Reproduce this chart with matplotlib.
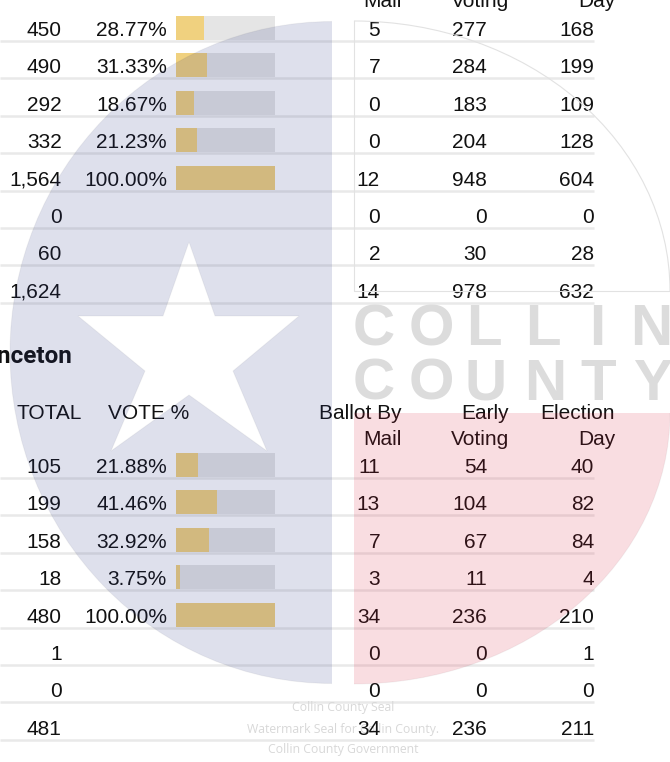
#!/usr/bin/env python3
"""precinct results table with the county seal watermark over it"""
import matplotlib
matplotlib.use('Agg')
import matplotlib.pyplot as plt
from matplotlib.patches import Ellipse, Arc, PathPatch, Rectangle
from matplotlib.path import Path
from matplotlib.transforms import Affine2D

# top table
top_total = ['450', '490', '292', '332', '1,564', '0', '60', '1,624']
top_pct = [28.77, 31.33, 18.67, 21.23, 100.00]
top_mail = [5, 7, 0, 0, 12, 0, 2, 14]
top_early = [277, 284, 183, 204, 948, 0, 30, 978]
top_day = [168, 199, 109, 128, 604, 0, 28, 632]

# bottom table
bot_total = ['105', '199', '158', '18', '480', '1', '0', '481']
bot_pct = [21.88, 41.46, 32.92, 3.75, 100.00]
bot_mail = [11, 13, 7, 3, 34, 0, 0, 34]
bot_early = [54, 104, 67, 11, 236, 0, 0, 236]
bot_day = [40, 82, 84, 4, 210, 1, 0, 211]

title = 'Princeton'
caption = ['Collin County Seal', 'Watermark Seal for Collin County.', 'Collin County Government']

plt.rcParams['font.family'] = ['Liberation Sans', 'DejaVu Sans']
ROW = 37.4
TXT = '#111111'

fig = plt.figure(figsize=(6.7, 7.62), dpi=100)
ax = fig.add_axes([0, 0, 1, 1])
ax.set_xlim(0, 670)
ax.set_ylim(762, 0)
ax.axis('off')


def draw_table(base, total, pct, mail, early, day):
    for i in range(8):
        y = base + i * ROW
        ax.plot([0, 594], [y + 5, y + 5], color='#e9e9e9', lw=1.8, zorder=1,
                solid_capstyle='butt')
        ax.text(61.5, y, total[i], ha='right', va='baseline', fontsize=15, color=TXT, zorder=5)
        ax.text(380, y, str(mail[i]), ha='right', va='baseline', fontsize=15, color=TXT, zorder=5)
        ax.text(487, y, str(early[i]), ha='right', va='baseline', fontsize=15, color=TXT, zorder=5)
        ax.text(594, y, str(day[i]), ha='right', va='baseline', fontsize=15, color=TXT, zorder=5)
    for i, p in enumerate(pct):
        y = base + i * ROW
        ax.text(167, y, f'{p:.2f}%', ha='right', va='baseline', fontsize=15, color=TXT, zorder=5)
        ax.barh(y - 8, 99, height=24, left=176, color='#e5e5e5', zorder=2)
        ax.barh(y - 8, 99 * p / 100, height=24, left=176, color='#f0d17f', zorder=3)


def draw_headers(base):
    ax.text(402, base - 26, 'Ballot By', ha='right', fontsize=15, color=TXT, zorder=5)
    ax.text(402, base, 'Mail', ha='right', fontsize=15, color=TXT, zorder=5)
    ax.text(509, base - 26, 'Early', ha='right', fontsize=15, color=TXT, zorder=5)
    ax.text(509, base, 'Voting', ha='right', fontsize=15, color=TXT, zorder=5)
    ax.text(615, base - 26, 'Election', ha='right', fontsize=15, color=TXT, zorder=5)
    ax.text(615, base, 'Day', ha='right', fontsize=15, color=TXT, zorder=5)


draw_table(36, top_total, top_pct, top_mail, top_early, top_day)
draw_table(473, bot_total, bot_pct, bot_mail, bot_early, bot_day)
draw_headers(7)
draw_headers(445)

ax.text(72, 363, title, ha='right', fontsize=17.5, fontweight='bold', family='Roboto', color='#111111', zorder=5)
ax.text(82, 419, 'TOTAL', ha='right', fontsize=15, color=TXT, zorder=5)
ax.text(189, 419, 'VOTE %', ha='right', fontsize=15, color=TXT, zorder=5)

# seal: blue half with a star cut out of it
star = [(189, 242), (215, 316), (299, 316), (233, 371), (267, 451),
        (189, 395), (111, 451), (145, 371), (78, 316), (163, 316), (189, 242)]
oval = Path.unit_circle().transformed(Affine2D().scale(322, 331).translate(332, 352.5))
hole = Path(star, closed=True)
if hole.to_polygons()[0][1][0] > 0:
    hole = Path(star[::-1], closed=True)
blue = PathPatch(Path.make_compound_path(oval, hole), facecolor=(40 / 255, 52 / 255, 132 / 255, 0.15),
                 edgecolor=(0, 0, 0, 0.04), lw=0.8, zorder=6)
ax.add_patch(blue)
blue.set_clip_path(Rectangle((0, 0), 332, 762, transform=ax.transData))

# red lower right quarter
red = Ellipse((354, 413), 632, 542, facecolor=(220 / 255, 30 / 255, 60 / 255, 0.15),
              edgecolor=(0, 0, 0, 0.04), lw=0.8, zorder=6)
ax.add_patch(red)
red.set_clip_path(Rectangle((354, 413), 316, 349, transform=ax.transData))

# white upper right quarter, outline only
ax.add_patch(Arc((354, 291), 632, 540, theta1=270, theta2=360, color='#e2e2e2', lw=0.8, zorder=6))
ax.plot([354, 354, 670], [21, 291, 291], color='#e2e2e2', lw=0.8, zorder=6)

# county name letters
for ch, x in zip('COLLIN', [353, 409, 466, 525, 589, 630]):
    ax.text(x, 345, ch, fontsize=42, fontweight='bold', color='#dcdcdc', zorder=4)
for ch, x in zip('COUNTY', [353, 409, 464, 524, 580, 633]):
    ax.text(x, 400, ch, fontsize=42, fontweight='bold', color='#dcdcdc', zorder=4)

for line, y in zip(caption, [708, 729, 749]):
    ax.text(343, y, line, ha='center', va='center', fontsize=8.8, family='Open Sans',
            color='#d8d8d8', zorder=4)

fig.savefig('out.png', dpi=100)
